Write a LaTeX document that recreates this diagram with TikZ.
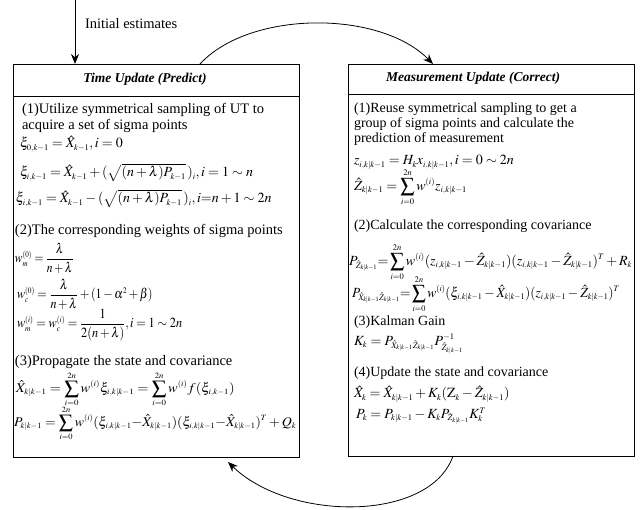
\documentclass[tikz,border=0pt]{standalone}
\usepackage{amsmath}
\usepackage{graphicx}
\usepackage{mathptmx}
\usepackage[no-math]{fontspec}
\setmainfont{Liberation Serif}
\usetikzlibrary{arrows.meta}
\DeclareMathSizes{14}{14}{8.5}{6.5}
\DeclareMathSizes{14.5}{14.5}{8.5}{6.5}
\newcommand\myfs{\fontsize{14}{15}\selectfont}
\newcommand\myfl{\fontsize{14.5}{15}\selectfont}
\newcommand\myft{\fontsize{13.5}{15}\selectfont}
\begin{document}
\begin{tikzpicture}[x=1pt,y=-1pt,
  every node/.style={inner sep=0pt, outer sep=0pt},
  txt/.style={anchor=base west, font=\myfs},
  txl/.style={anchor=base west, font=\myfl},
  eqb/.style={anchor=base west, font=\myfs},
  eqc/.style={anchor=west, font=\myfs},
  ttl/.style={anchor=center, font=\myft\bfseries\itshape},
  box/.style={draw, line width=0.8pt, anchor=north west},
  arr/.style={line width=0.8pt, -{Stealth[length=10pt,width=8pt]}}]
\useasboundingbox (0,0) rectangle (643,510);

% boxes
\node[box, minimum width=286pt, minimum height=393pt] (L) at (13,64) {};
\node[box, minimum width=286pt, minimum height=392pt] (R) at (348,64) {};
\draw[line width=0.8pt] (13,96) -- (299,96);
\draw[line width=0.8pt] (348,94) -- (634,94);

% left box
\node[ttl] (lt) at (145,79) {Time Update (Predict)};
\node[txl] (l1) at (22,114) {(1)Utilize symmetrical sampling of UT to};
\node[txl] (l2) at (22,130) {acquire a set of sigma points};
\node[eqb] (le1) at (20,148) {$\xi_{0,k-1} = \hat{X}_{k-1}, i=0$};
\node[eqb] (le2) at (20,177) {$\xi_{i,k-1} = \hat{X}_{k-1} + (\sqrt{(n+\lambda)P_{k-1}}\,)_i, i=1\sim n$};
\node[eqb] (le3) at (16,203) {$\xi_{i,k-1} = \hat{X}_{k-1} - (\sqrt{(n+\lambda)P_{k-1}}\,)_i, i{=}n+1\sim 2n$};
\node[txl] (l3) at (15,235) {(2)The corresponding weights of sigma points};
\node[eqc] (le4) at (15,258) {\scalebox{0.82}[1]{$w_m^{(0)} = \dfrac{\lambda}{n+\lambda}$}};
\node[eqc] (le5) at (17,294) {\scalebox{0.86}[1]{$w_c^{(0)} = \dfrac{\lambda}{n+\lambda} + (1-\alpha^2+\beta)$}};
\node[eqc] (le6) at (17,325) {\scalebox{0.88}[1]{$w_m^{(i)} = w_c^{(i)} = \dfrac{1}{2(n+\lambda)}, i=1\sim 2n$}};
\node[txl] (l4) at (15,366) {(3)Propagate the state and covariance};
\node[eqc] (le7) at (16,389) {\scalebox{1.03}[0.95]{$\hat{X}_{k|k-1} = \displaystyle\sum_{i=0}^{2n} w^{(i)}\xi_{i,k|k-1} = \sum_{i=0}^{2n} w^{(i)} f(\xi_{i,k-1})$}};
\node[eqc] (le8) at (14,423) {\scalebox{0.99}[0.95]{$P_{k|k-1} = \displaystyle\sum_{i=0}^{2n} w^{(i)}(\xi_{i,k|k-1}{-}\hat{X}_{k|k-1})(\xi_{i,k|k-1}{-}\hat{X}_{k|k-1})^T + Q_k$}};

% right box
\node[ttl] (rt) at (473,78) {Measurement Update (Correct)};
\node[txt] (r1) at (354,113) {(1)Reuse symmetrical sampling to get a};
\node[txt] (r2) at (354,128) {group of sigma points and calculate the};
\node[txt] (r3) at (354,143) {prediction of measurement};
\node[eqb] (re1) at (354,165) {$z_{i,k|k-1} = H_k x_{i,k|k-1}, i = 0\sim 2n$};
\node[eqc] (re2) at (354,187) {$\hat{Z}_{k|k-1} = \displaystyle\sum_{i=0}^{2n} w^{(i)} z_{i,k|k-1}$};
\node[txt] (r4) at (354,230) {(2)Calculate the corresponding covariance};
\node[eqc] (re3) at (349,262) {$P_{\hat{Z}_{k|k-1}} {=}\displaystyle\sum_{i=0}^{2n} w^{(i)}(z_{i,k|k-1}-\hat{Z}_{k|k-1})(z_{i,k|k-1}-\hat{Z}_{k|k-1})^T + R_k$};
\node[eqc] (re4) at (352,294) {\scalebox{0.96}[1]{$P_{\hat{X}_{k|k-1}\hat{Z}_{k|k-1}} {=}\displaystyle\sum_{i=0}^{2n} w^{(i)}(\xi_{i,k|k-1}-\hat{X}_{k|k-1})(z_{i,k|k-1}-\hat{Z}_{k|k-1})^T$}};
\node[txt] (r5) at (354,326) {(3)Kalman Gain};
\node[eqc] (re5) at (354,344) {$K_k = P_{\hat{X}_{k|k-1}\hat{Z}_{k|k-1}} P^{-1}_{\hat{Z}_{k|k-1}}$};
\node[txt] (r6) at (354,377) {(4)Update the state and covariance};
\node[eqb] (re6) at (354,398) {$\hat{X}_k = \hat{X}_{k|k-1} + K_k(\mathrm{Z}_k - \hat{Z}_{k|k-1})$};
\node[eqc] (re7) at (356,416) {$P_k = P_{k|k-1} - K_k P_{\hat{Z}_{k|k-1}} K_k^T$};

% arrows
\coordinate (init) at (75,0);
\node[txl] (lab) at (85,29) {Initial estimates};
\draw[arr] (init) -- (init |- L.north);
\coordinate (ta) at (200,64);
\coordinate (tb) at (433,64);
\draw[arr] (ta) .. controls (250,10) and (380,10) .. (tb);
\coordinate (ba) at (453,456);
\coordinate (bb) at (228,462);
\draw[arr] (ba) .. controls (430,522) and (290,522) .. (bb);
\end{tikzpicture}
\end{document}
